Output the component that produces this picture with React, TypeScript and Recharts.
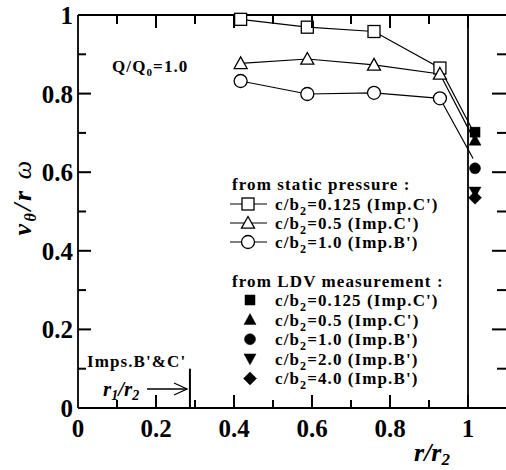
import React from 'react'
import { ComposedChart, Line, Scatter, XAxis, YAxis, ReferenceLine } from 'recharts'

// static pressure measurements (open markers, connected)
const staticX = [0.417, 0.588, 0.759, 0.928, 1.013]
const squareY = [0.989, 0.969, 0.958, 0.865, 0.705]
const triangleY = [0.877, 0.888, 0.873, 0.85, 0.688]
const circleY = [0.832, 0.799, 0.802, 0.788, 0.635]

// LDV measurements (filled markers) at the impeller outlet
const ldvX = [1.018, 1.018, 1.018, 1.018, 1.018]
const ldvY = [0.702, 0.681, 0.61, 0.55, 0.535]
const ldvShapes = ['square', 'triangle', 'circle', 'down', 'diamond']

const xTicks = [0, 0.1, 0.2, 0.3, 0.4, 0.5, 0.6, 0.7, 0.8, 0.9, 1.0, 1.1]
const yTicks = [0, 0.1, 0.2, 0.3, 0.4, 0.5, 0.6, 0.7, 0.8, 0.9, 1.0]

const staticLegend = ["=0.125 (Imp.C')", "=0.5 (Imp.C')", "=1.0 (Imp.B')"]
const ldvLegend = ["=0.125 (Imp.C')", "=0.5 (Imp.C')", "=1.0 (Imp.B')", "=2.0 (Imp.B')", "=4.0 (Imp.B')"]

const toPoints = (xs: number[], ys: number[]) => xs.map((x, i) => ({ x, y: ys[i] }))

const FONT = '"Liberation Serif", "Times New Roman", serif'
const X_MAX = 1.1
const Y_MAX = 1

// chart geometry (plot frame follows from these margins and axis sizes)
const CHART_W = 520
const CHART_H = 470
const MARGIN = { top: 14, right: 12, bottom: 32, left: 38 }
const Y_AXIS_W = 40
const X_AXIS_H = 30
const PLOT_L = MARGIN.left + Y_AXIS_W
const PLOT_R = CHART_W - MARGIN.right - 1
const PLOT_T = MARGIN.top + 1
const PLOT_B = CHART_H - MARGIN.bottom - X_AXIS_H
const fx = (v: number) => PLOT_L + (v / X_MAX) * (PLOT_R - PLOT_L)
const fy = (v: number) => PLOT_B - (v / Y_MAX) * (PLOT_B - PLOT_T)

function Marker({ kind, cx, cy, filled }: { kind: string; cx: number; cy: number; filled: boolean }) {
  const fill = filled ? '#000' : '#fff'
  const sw = filled ? 0.5 : 1.3
  if (kind === 'square') {
    const s = filled ? 5 : 6
    return <rect x={cx - s} y={cy - s} width={2 * s} height={2 * s} fill={fill} stroke="#000" strokeWidth={sw} />
  }
  if (kind === 'triangle') {
    const s = filled ? 6 : 6.5
    return <polygon points={`${cx},${cy - s} ${cx + s},${cy + s * 0.8} ${cx - s},${cy + s * 0.8}`} fill={fill} stroke="#000" strokeWidth={sw} />
  }
  if (kind === 'down') {
    const s = 6
    return <polygon points={`${cx},${cy + s} ${cx + s},${cy - s * 0.8} ${cx - s},${cy - s * 0.8}`} fill={fill} stroke="#000" strokeWidth={sw} />
  }
  if (kind === 'diamond') {
    const s = 6.5
    return <polygon points={`${cx},${cy - s} ${cx + s},${cy} ${cx},${cy + s} ${cx - s},${cy}`} fill={fill} stroke="#000" strokeWidth={sw} />
  }
  return <circle cx={cx} cy={cy} r={filled ? 5.5 : 6.5} fill={fill} stroke="#000" strokeWidth={sw} />
}

const makeDot = (kind: string, count: number) => (props: any) => {
  const { cx, cy, index } = props
  if (index === count - 1 || cx == null) return <g key={`d-${kind}-${index}`} />
  return (
    <g key={`d-${kind}-${index}`}>
      <Marker kind={kind} cx={cx} cy={cy} filled={false} />
    </g>
  )
}

const isMajor = (v: number) => Math.round(v * 10) % 2 === 0
const fmt = (v: number) => (v === 0 ? '0' : v === 1 ? '1' : v.toFixed(1))

const BottomLabel = (props: any) => {
  const { x, y, payload } = props
  const v = payload.value
  if (!isMajor(v) || v > 1.05) return <g />
  return (
    <text x={x} y={y + 29} textAnchor="middle" fontFamily={FONT} fontWeight="bold" fontSize={25} fill="#000">
      {fmt(v)}
    </text>
  )
}

const LeftLabel = (props: any) => {
  const { x, y, payload } = props
  const v = payload.value
  if (!isMajor(v)) return <g />
  return (
    <text x={x - 5} y={y + 9} textAnchor="end" fontFamily={FONT} fontWeight="bold" fontSize={25} fill="#000">
      {fmt(v)}
    </text>
  )
}

const Sub = ({ children }: { children: React.ReactNode }) => (
  <tspan dy={5} fontSize={12}>{children}</tspan>
)

export default function App() {
  const sqData = toPoints(staticX, squareY)
  const triData = toPoints(staticX, triangleY)
  const cirData = toPoints(staticX, circleY)
  const ldvData = ldvX.map((x, i) => ({ x, y: ldvY[i], kind: ldvShapes[i] }))

  const textProps = { fontFamily: FONT, fontWeight: 'bold' as const, fontSize: 17, letterSpacing: 1.1 }

  const xMarks = xTicks.filter((v) => v > 0 && v < X_MAX)
  const yMarks = yTicks.filter((v) => v > 0 && v < Y_MAX)

  return (
    <div style={{ position: 'absolute', left: 0, top: 0, width: 506, height: 470, overflow: 'hidden', background: '#fff' }}>
      <ComposedChart width={CHART_W} height={CHART_H} margin={MARGIN}>
        <XAxis
          xAxisId="b"
          type="number"
          dataKey="x"
          domain={[0, X_MAX]}
          ticks={xTicks}
          height={X_AXIS_H}
          tickSize={0}
          tickMargin={0}
          tickLine={false}
          axisLine={{ stroke: '#000', strokeWidth: 2 }}
          tick={<BottomLabel />}
          interval={0}
        />
        <XAxis
          xAxisId="t"
          orientation="top"
          type="number"
          dataKey="x"
          domain={[0, X_MAX]}
          height={1}
          tick={false}
          tickLine={false}
          axisLine={{ stroke: '#000', strokeWidth: 2 }}
        />
        <YAxis
          yAxisId="l"
          type="number"
          domain={[0, Y_MAX]}
          ticks={yTicks}
          width={Y_AXIS_W}
          tickSize={0}
          tickMargin={0}
          tickLine={false}
          axisLine={{ stroke: '#000', strokeWidth: 1.8 }}
          tick={<LeftLabel />}
          interval={0}
        />
        <YAxis
          yAxisId="r"
          orientation="right"
          type="number"
          domain={[0, Y_MAX]}
          width={1}
          tick={false}
          tickLine={false}
          axisLine={{ stroke: '#000', strokeWidth: 1.8 }}
        />
        <ReferenceLine xAxisId="b" yAxisId="l" x={1.0} stroke="#000" strokeWidth={1.8} />
        <ReferenceLine
          xAxisId="b"
          yAxisId="l"
          segment={[{ x: 0.287, y: 0 }, { x: 0.287, y: 0.1 }]}
          stroke="#000"
          strokeWidth={2}
        />
        <Line xAxisId="b" yAxisId="l" data={sqData} dataKey="y" stroke="#000" strokeWidth={1.2} dot={makeDot('square', sqData.length)} isAnimationActive={false} />
        <Line xAxisId="b" yAxisId="l" data={triData} dataKey="y" stroke="#000" strokeWidth={1.2} dot={makeDot('triangle', triData.length)} isAnimationActive={false} />
        <Line xAxisId="b" yAxisId="l" data={cirData} dataKey="y" stroke="#000" strokeWidth={1.2} dot={makeDot('circle', cirData.length)} isAnimationActive={false} />
        <Scatter
          xAxisId="b"
          yAxisId="l"
          data={ldvData}
          dataKey="y"
          isAnimationActive={false}
          shape={(p: any) => <Marker kind={p.payload.kind} cx={p.cx} cy={p.cy} filled />}
        />
      </ComposedChart>

      <svg width={506} height={470} style={{ position: 'absolute', left: 0, top: 0, pointerEvents: 'none' }}>
        {/* inward frame ticks, major every 0.2 and minor every 0.1 */}
        <g stroke="#000" strokeWidth={2}>
          {xMarks.map((v) => (
            <g key={`xt-${v}`}>
              <line x1={fx(v)} x2={fx(v)} y1={PLOT_B} y2={PLOT_B - (isMajor(v) ? 13 : 8)} />
              <line x1={fx(v)} x2={fx(v)} y1={PLOT_T} y2={PLOT_T + (isMajor(v) ? 13 : 9)} />
            </g>
          ))}
          {yMarks.map((v) => (
            <g key={`yt-${v}`}>
              <line x1={PLOT_L} x2={PLOT_L + (isMajor(v) ? 13 : 8)} y1={fy(v)} y2={fy(v)} />
              <line x1={PLOT_R} x2={PLOT_R - (isMajor(v) ? 15 : 10)} y1={fy(v)} y2={fy(v)} />
            </g>
          ))}
        </g>

        {/* axis titles */}
        <text transform="rotate(-90)" x={-197} y={31} textAnchor="middle" fontFamily={FONT} fontWeight="bold" fontStyle="italic" fontSize={26} letterSpacing={2.5}>
          v<tspan dy={5} fontSize={16}>θ</tspan>
          <tspan dy={-5}>/r</tspan>
          <tspan fontWeight="normal"> ω</tspan>
        </text>
        <text x={432} y={461} textAnchor="middle" fontFamily={FONT} fontWeight="bold" fontStyle="italic" fontSize={26}>
          r/r<tspan dy={4} fontSize={17}>2</tspan>
        </text>

        {/* annotations */}
        <text x={112} y={72} {...textProps}>
          Q/Q<tspan dy={4} fontSize={11}>0</tspan>
          <tspan dy={-4}>=1.0</tspan>
        </text>
        <text x={87} y={367} {...textProps}>Imps.B'&amp;C'</text>
        <text x={103} y={396} fontFamily={FONT} fontWeight="bold" fontStyle="italic" fontSize={21}>
          r<tspan dy={4} fontSize={14}>1</tspan>
          <tspan dy={-4}>/r</tspan>
          <tspan dy={4} fontSize={14}>2</tspan>
        </text>
        <line x1={147} x2={187} y1={389} y2={389} stroke="#000" strokeWidth={1.3} />
        <polyline points="174,383 187,389 174,395" fill="none" stroke="#000" strokeWidth={1.3} />

        {/* legend: static pressure */}
        <text x={232} y={190} {...textProps}>from static pressure :</text>
        {staticLegend.map((t, i) => {
          const y = 204 + i * 19
          const kinds = ['square', 'triangle', 'circle']
          return (
            <g key={`sl-${i}`}>
              <line x1={230} x2={267} y1={y} y2={y} stroke="#000" strokeWidth={1.2} />
              <Marker kind={kinds[i]} cx={248} cy={y} filled={false} />
              <text x={275} y={y + 6} {...textProps}>
                c/b<Sub>2</Sub>
                <tspan dy={-5}>{t}</tspan>
              </text>
            </g>
          )
        })}

        {/* legend: LDV */}
        <text x={232} y={287} {...textProps}>from LDV measurement :</text>
        {ldvLegend.map((t, i) => {
          const y = 300 + i * 19.6
          return (
            <g key={`ll-${i}`}>
              <Marker kind={ldvShapes[i]} cx={250} cy={y} filled />
              <text x={275} y={y + 6} {...textProps}>
                c/b<Sub>2</Sub>
                <tspan dy={-5}>{t}</tspan>
              </text>
            </g>
          )
        })}
      </svg>
    </div>
  )
}
